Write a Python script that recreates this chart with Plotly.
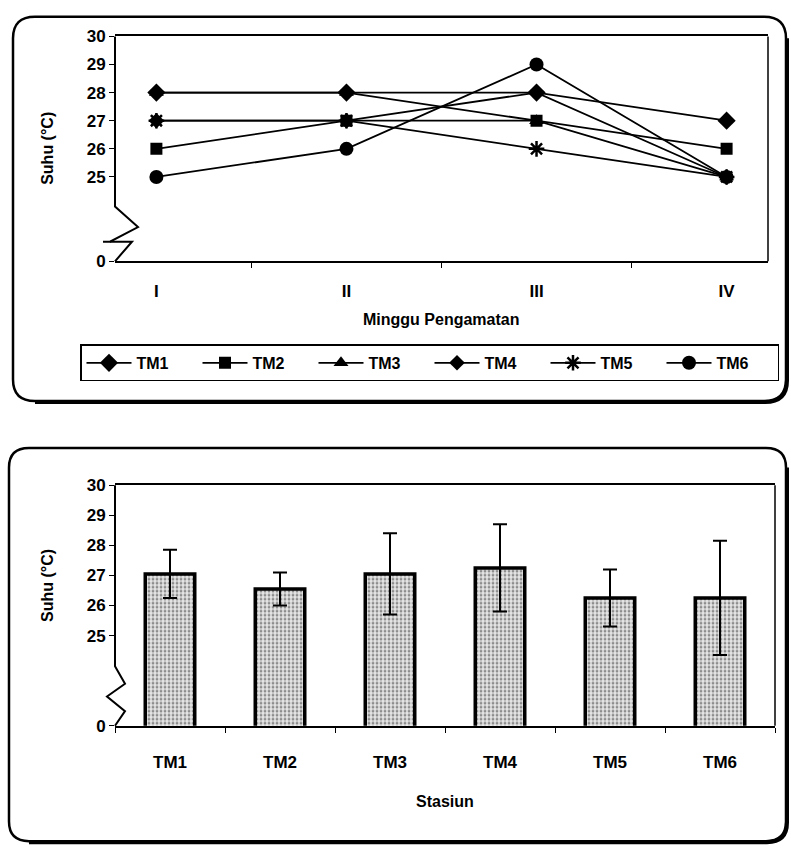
import plotly.graph_objects as go

# ---------------- data ----------------
weeks = ["I", "II", "III", "IV"]
series_names = ["TM1", "TM2", "TM3", "TM4", "TM5", "TM6"]
tm1 = [28, 28, 28, 27]
tm2 = [26, 27, 27, 26]
tm3 = [28, 28, 27, 25]
tm4 = [27, 27, 28, 25]
tm5 = [27, 27, 26, 25]
tm6 = [25, 26, 29, 25]
series_values = [tm1, tm2, tm3, tm4, tm5, tm6]

stations = ["TM1", "TM2", "TM3", "TM4", "TM5", "TM6"]
station_mean = [27.05, 26.55, 27.05, 27.25, 26.25, 26.25]
station_sd = [0.8, 0.55, 1.35, 1.45, 0.95, 1.9]

ytick_vals = [22, 25, 26, 27, 28, 29, 30]
ytick_text = ["0", "25", "26", "27", "28", "29", "30"]

# ---------------- layout helpers ----------------
W, H = 791, 858
def px(x):
    return x / W
def py(y):
    return 1 - y / H
def path(points):
    s = "M %f,%f" % (px(points[0][0]), py(points[0][1]))
    for x, y in points[1:]:
        s += " L %f,%f" % (px(x), py(y))
    return s
def rounded_rect(x0, y0, x1, y1, r):
    return ("M %f,%f L %f,%f Q %f,%f %f,%f L %f,%f Q %f,%f %f,%f "
            "L %f,%f Q %f,%f %f,%f L %f,%f Q %f,%f %f,%f Z") % (
        px(x0 + r), py(y0), px(x1 - r), py(y0), px(x1), py(y0), px(x1), py(y0 + r),
        px(x1), py(y1 - r), px(x1), py(y1), px(x1 - r), py(y1),
        px(x0 + r), py(y1), px(x0), py(y1), px(x0), py(y1 - r),
        px(x0), py(y0 + r), px(x0), py(y0), px(x0 + r), py(y0))
def shadow_corner(x0, y0, x1, y1, r):
    # bottom and right edges only (thick "shadow" look)
    return ("M %f,%f L %f,%f Q %f,%f %f,%f L %f,%f") % (
        px(x1), py(y0 + r), px(x1), py(y1 - r), px(x1), py(y1), px(x1 - r), py(y1),
        px(x0 + r), py(y1))

FONT = "Liberation Sans, Arial, sans-serif"
BOLD = dict(family=FONT, size=17, color="black", weight="bold")
LEG = dict(family=FONT, size=16, color="black", weight="bold")

fig = go.Figure()

symbols = ["diamond", "square", "triangle-up", "diamond", "asterisk-open", "circle"]
sizes = [14, 12, 13, 12, 13, 14]
for name, vals, sym, sz in zip(series_names, series_values, symbols, sizes):
    fig.add_trace(go.Scatter(
        x=weeks, y=vals, name=name, mode="lines+markers",
        line=dict(color="black", width=1.8),
        marker=dict(symbol=sym, size=sz, color="black",
                    line=dict(color="black", width=2.5 if "asterisk" in sym else 0)),
        xaxis="x", yaxis="y"))

fig.add_trace(go.Bar(
    x=stations, y=station_mean, showlegend=False,
    marker=dict(color="#c0c0c0", line=dict(color="black", width=3.5),
                pattern=dict(shape=".", fgcolor="#333333", bgcolor="#e6e6e6",
                             size=4, solidity=0.4)),
    error_y=dict(type="data", array=station_sd, visible=True,
                 color="black", thickness=2, width=7),
    width=0.45, xaxis="x2", yaxis="y2"))

axis_common = dict(showgrid=False, zeroline=False, tickfont=BOLD)

fig.update_layout(
    width=W, height=H, margin=dict(l=0, r=0, t=0, b=0),
    paper_bgcolor="white", plot_bgcolor="white",
    font=dict(family=FONT, color="black"),
    xaxis=dict(domain=[px(115), px(768)], anchor="y", type="category",
               categoryorder="array", categoryarray=weeks,
               showline=True, linecolor="black", linewidth=1.5, mirror=True,
               ticks="outside", tickson="boundaries", ticklen=5, tickcolor="black",
               ticklabelstandoff=14, **axis_common),
    yaxis=dict(domain=[py(258), py(28)], anchor="x", range=[22, 30],
               tickvals=ytick_vals, ticktext=ytick_text, showline=False,
               ticks="outside", ticklen=5, tickcolor="black", **axis_common),
    xaxis2=dict(domain=[px(115), px(775)], anchor="y2", type="category",
                categoryorder="array", categoryarray=stations,
                showline=True, linecolor="black", linewidth=1.5, mirror=True,
                ticks="outside", tickson="boundaries", ticklen=5, tickcolor="black",
                ticklabelstandoff=20, **axis_common),
    yaxis2=dict(domain=[py(733), py(487)], anchor="x2", range=[22, 30],
                tickvals=ytick_vals, ticktext=ytick_text, showline=False,
                ticks="outside", ticklen=5, tickcolor="black", **axis_common),
    legend=dict(orientation="h", x=px(80), xanchor="left", y=py(343), yanchor="top",
                bordercolor="black", borderwidth=1.5, bgcolor="white",
                font=LEG, entrywidth=56, entrywidthmode="pixels", itemwidth=45,
                traceorder="normal"),
    bargap=0.55,
)

shapes = [
    # panel frames
    dict(type="path", xref="paper", yref="paper", path=rounded_rect(13, 8, 786, 401, 22),
         line=dict(color="black", width=2.5)),
    dict(type="path", xref="paper", yref="paper", path=shadow_corner(13, 8, 787, 402, 22),
         line=dict(color="black", width=4)),
    dict(type="path", xref="paper", yref="paper", path=rounded_rect(9, 449, 786, 851, 20),
         line=dict(color="black", width=2.5)),
    dict(type="path", xref="paper", yref="paper", path=shadow_corner(9, 449, 787, 852, 20),
         line=dict(color="black", width=4)),
    # top chart left axis with break
    dict(type="path", xref="paper", yref="paper",
         path=path([(115, 28), (115, 202), (138, 223), (110, 238), (103, 238)]),
         line=dict(color="black", width=2)),
    dict(type="path", xref="paper", yref="paper",
         path=path([(110, 238), (132, 238), (115, 258)]),
         line=dict(color="black", width=2)),
    dict(type="line", xref="paper", yref="paper", x0=px(768), x1=px(768), y0=py(28), y1=py(258),
         line=dict(color="black", width=1.5)),
    # bottom chart left axis with break
    dict(type="path", xref="paper", yref="paper",
         path=path([(115, 487), (115, 672), (125, 690), (107, 703), (125, 718), (115, 733)]),
         line=dict(color="black", width=2)),
    dict(type="line", xref="paper", yref="paper", x0=px(775), x1=px(775), y0=py(487), y1=py(733),
         line=dict(color="black", width=1.5)),
]
fig.update_layout(shapes=shapes)

ann = [
    dict(text="<b>Suhu (°C)</b>", x=px(48), y=py(143), textangle=-90),
    dict(text="<b>Minggu Pengamatan</b>", x=px(441), y=py(318)),
    dict(text="<b>Suhu (°C)</b>", x=px(48), y=py(590), textangle=-90),
    dict(text="<b>Stasiun</b>", x=px(445), y=py(810)),
]
for a in ann:
    a.update(xref="paper", yref="paper", showarrow=False, xanchor="center", yanchor="middle",
             font=dict(family=FONT, size=16, color="black"))
fig.update_layout(annotations=ann)

fig.write_html("out.html")
